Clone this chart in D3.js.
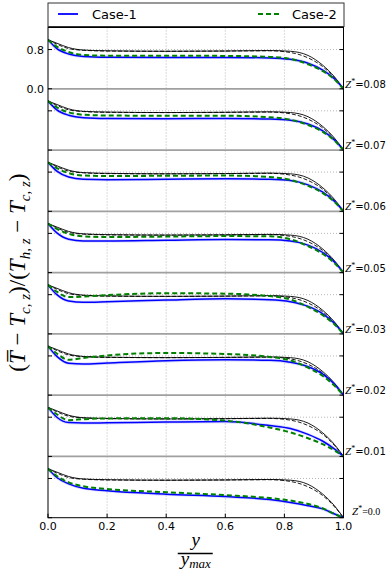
<!DOCTYPE html>
<html>
<head>
<meta charset="utf-8">
<script src="https://cdn.jsdelivr.net/npm/d3@7"></script>
<style>body{margin:0;background:#fff}</style>
</head>
<body>
<script>
// Positions along the channel (y / y_max) where the profiles were read
const yPos = [0, 0.03, 0.07, 0.12, 0.2, 0.4, 0.6, 0.75, 0.82, 0.88, 0.93, 0.97, 1.0];
// Panels from top to bottom
const zLabels = ["0.08", "0.07", "0.06", "0.05", "0.03", "0.02", "0.01", "0.0"];

// Black reference profiles (same in every panel)
const refSolid  = [1.0, 0.93, 0.84, 0.79, 0.775, 0.765, 0.77, 0.78, 0.765, 0.68, 0.48, 0.24, 0];
const refDashed = [1.0, 0.91, 0.82, 0.785, 0.77, 0.765, 0.77, 0.775, 0.74, 0.63, 0.45, 0.22, 0];

// Case-1 (blue), one row per panel
const case1 = [
  [1.0, 0.82, 0.71, 0.66, 0.645, 0.64, 0.64, 0.63, 0.60, 0.52, 0.38, 0.20, 0],
  [1.0, 0.82, 0.71, 0.66, 0.645, 0.64, 0.645, 0.635, 0.61, 0.53, 0.39, 0.20, 0],
  [1.0, 0.82, 0.70, 0.655, 0.645, 0.655, 0.665, 0.655, 0.63, 0.54, 0.39, 0.20, 0],
  [1.0, 0.81, 0.68, 0.645, 0.645, 0.66, 0.675, 0.67, 0.645, 0.56, 0.41, 0.21, 0],
  [1.0, 0.80, 0.67, 0.645, 0.655, 0.69, 0.715, 0.695, 0.655, 0.56, 0.41, 0.21, 0],
  [1.0, 0.79, 0.65, 0.635, 0.655, 0.70, 0.72, 0.71, 0.67, 0.58, 0.43, 0.22, 0],
  [1.0, 0.80, 0.69, 0.68, 0.685, 0.70, 0.71, 0.63, 0.57, 0.45, 0.31, 0.15, 0],
  [1.0, 0.82, 0.69, 0.60, 0.55, 0.48, 0.43, 0.37, 0.31, 0.245, 0.18, 0.075, 0]
];

// Case-2 (green dashed), one row per panel
const case2 = [
  [1.0, 0.86, 0.75, 0.69, 0.675, 0.675, 0.67, 0.65, 0.61, 0.50, 0.36, 0.19, 0],
  [1.0, 0.87, 0.77, 0.72, 0.705, 0.70, 0.70, 0.67, 0.62, 0.51, 0.37, 0.19, 0],
  [1.0, 0.88, 0.78, 0.73, 0.72, 0.725, 0.73, 0.70, 0.64, 0.52, 0.37, 0.19, 0],
  [1.0, 0.89, 0.79, 0.74, 0.725, 0.735, 0.745, 0.74, 0.68, 0.54, 0.38, 0.19, 0],
  [1.0, 0.86, 0.75, 0.76, 0.79, 0.83, 0.82, 0.77, 0.70, 0.55, 0.38, 0.19, 0],
  [1.0, 0.85, 0.72, 0.76, 0.81, 0.86, 0.84, 0.78, 0.71, 0.56, 0.39, 0.19, 0],
  [1.0, 0.86, 0.74, 0.76, 0.775, 0.78, 0.73, 0.59, 0.49, 0.37, 0.25, 0.12, 0],
  [1.0, 0.85, 0.72, 0.64, 0.585, 0.52, 0.46, 0.40, 0.35, 0.28, 0.19, 0.075, 0]
];

const xTicks = [0, 0.2, 0.4, 0.6, 0.8, 1.0];
const bandTicks = [0, 0.8];
const bandSpan = 1.25;

const width = 390, height = 573;
const plot = {left: 48, right: 343.5, top: 27.5, bottom: 517.7};
const nPanels = zLabels.length;

const svg = d3.select("body").append("svg")
  .attr("width", width).attr("height", height)
  .style("font-family", "'DejaVu Sans', sans-serif");

const x = d3.scaleLinear().domain([0, 1]).range([plot.left, plot.right]);
const y = d3.scaleLinear().domain([0, nPanels * bandSpan]).range([plot.bottom, plot.top]);
const offset = i => (nPanels - 1 - i) * bandSpan;

svg.append("clipPath").attr("id", "clip").append("rect")
  .attr("x", plot.left).attr("y", plot.top)
  .attr("width", plot.right - plot.left).attr("height", plot.bottom - plot.top);

// grid
const grid = svg.append("g");
for (const t of xTicks.slice(1, -1)) {
  grid.append("line")
    .attr("x1", x(t)).attr("x2", x(t)).attr("y1", plot.top).attr("y2", plot.bottom)
    .attr("stroke", "#b8b8b8").attr("stroke-width", 1).attr("stroke-dasharray", "1,2");
}
zLabels.forEach((z, i) => {
  grid.append("line")
    .attr("x1", plot.left).attr("x2", plot.right)
    .attr("y1", y(offset(i) + 0.8)).attr("y2", y(offset(i) + 0.8))
    .attr("stroke", "#b8b8b8").attr("stroke-width", 1).attr("stroke-dasharray", "1,2");
  if (i < nPanels - 1) {
    grid.append("line")
      .attr("x1", plot.left).attr("x2", plot.right)
      .attr("y1", y(offset(i))).attr("y2", y(offset(i)))
      .attr("stroke", "#a0a0a0").attr("stroke-width", 1.8);
  }
});

const line = d3.line().curve(d3.curveMonotoneX);
const lines = svg.append("g").attr("clip-path", "url(#clip)");

function profile(vals, i) {
  return line(yPos.map((p, k) => [x(p), y(offset(i) + vals[k])]));
}

zLabels.forEach((z, i) => {
  lines.append("path").attr("d", profile(refSolid, i))
    .attr("fill", "none").attr("stroke", "#000").attr("stroke-width", 0.9);
  lines.append("path").attr("d", profile(refDashed, i))
    .attr("fill", "none").attr("stroke", "#000").attr("stroke-width", 0.9)
    .attr("stroke-dasharray", "4,2");
  lines.append("path").attr("d", profile(case1[i], i))
    .attr("fill", "none").attr("stroke", "#0000ff").attr("stroke-opacity", 0.15)
    .attr("stroke-width", 3.2);
  lines.append("path").attr("d", profile(case1[i], i))
    .attr("fill", "none").attr("stroke", "#0000ff").attr("stroke-width", 1.5);
  lines.append("path").attr("d", profile(case2[i], i))
    .attr("fill", "none").attr("stroke", "#008000").attr("stroke-width", 2)
    .attr("stroke-dasharray", "5,3");
});

// frame and inward ticks
const axes = svg.append("g");
axes.append("rect")
  .attr("x", plot.left).attr("y", plot.top)
  .attr("width", plot.right - plot.left).attr("height", plot.bottom - plot.top)
  .attr("fill", "none").attr("stroke", "#000").attr("stroke-width", 1);
zLabels.forEach((z, i) => {
  for (const t of bandTicks) {
    const yy = y(offset(i) + t);
    axes.append("line").attr("x1", plot.left).attr("x2", plot.left + 4)
      .attr("y1", yy).attr("y2", yy).attr("stroke", "#000");
    axes.append("line").attr("x1", plot.right - 4).attr("x2", plot.right)
      .attr("y1", yy).attr("y2", yy).attr("stroke", "#000");
  }
});
for (const t of xTicks) {
  axes.append("line").attr("x1", x(t)).attr("x2", x(t))
    .attr("y1", plot.bottom).attr("y2", plot.bottom - 4).attr("stroke", "#000");
  axes.append("text").attr("x", x(t)).attr("y", plot.bottom + 12)
    .attr("text-anchor", "middle").attr("font-size", 11).text(d3.format(".1f")(t));
}
// tick labels for the top panel only
for (const t of bandTicks) {
  axes.append("text").attr("x", 44).attr("y", y(offset(0) + t) + 4)
    .attr("text-anchor", "end").attr("font-size", 11).text(d3.format(".1f")(t));
}

// Z* labels on the right
zLabels.forEach((z, i) => {
  const last = i === nPanels - 1;
  const t = axes.append("text")
    .attr("x", last ? 352 : 345)
    .attr("y", y(offset(i)) - (last ? 2.7 : 1))
    .attr("font-size", 10);
  t.append("tspan").attr("font-family", "'Liberation Serif', serif").attr("font-style", "italic")
    .attr("font-size", 11).text("Z");
  t.append("tspan").attr("font-family", "'Liberation Serif', serif").attr("font-size", 8)
    .attr("dy", -4).text("*");
  t.append("tspan").attr("dy", 4)
    .attr("font-family", last ? "'Liberation Serif', serif" : null)
    .text("=" + z);
});

// legend
const leg = svg.append("g");
leg.append("rect").attr("x", plot.left).attr("y", 3).attr("width", plot.right - plot.left + 0.5)
  .attr("height", 23.5).attr("fill", "#fff").attr("stroke", "#333").attr("stroke-width", 1);
leg.append("line").attr("x1", 58).attr("x2", 78).attr("y1", 14).attr("y2", 14)
  .attr("stroke", "#0000ff").attr("stroke-width", 1.8);
leg.append("text").attr("x", 92).attr("y", 18.5).attr("font-size", 13).text("Case-1");
leg.append("line").attr("x1", 258).attr("x2", 281).attr("y1", 14).attr("y2", 14)
  .attr("stroke", "#008000").attr("stroke-width", 2).attr("stroke-dasharray", "5,3");
leg.append("text").attr("x", 292).attr("y", 18.5).attr("font-size", 13).text("Case-2");

// y axis label
const serif = "'Liberation Serif', serif";
const yl = svg.append("text")
  .attr("transform", `translate(25,${(plot.top + plot.bottom) / 2}) rotate(-90)`)
  .attr("text-anchor", "middle").attr("font-family", serif).attr("font-size", 23);
const parts = [
  ["(", false, false], ["T\u0305", true, false], ["\u2005\u2212\u2005", false, false], ["T", true, false],
  ["c, z", true, true], [")/(", false, false], ["T", true, false], ["h, z", true, true],
  ["\u2005\u2212\u2005", false, false], ["T", true, false], ["c, z", true, true], [")", false, false]
];
let down = false;
for (const [txt, ital, sub] of parts) {
  const ts = yl.append("tspan").text(txt).attr("font-style", ital ? "italic" : "normal");
  if (sub) { ts.attr("font-size", 15).attr("dy", 5); down = true; }
  else if (down) { ts.attr("dy", -5); down = false; }
}

// x axis label: y / y_max
const xc = (plot.left + plot.right) / 2;
svg.append("text").attr("x", xc).attr("y", 546).attr("text-anchor", "middle")
  .attr("font-family", serif).attr("font-style", "italic").attr("font-size", 19).text("y");
svg.append("line").attr("x1", xc - 18).attr("x2", xc + 17).attr("y1", 553.5).attr("y2", 553.5)
  .attr("stroke", "#000").attr("stroke-width", 1.5);
const xm = svg.append("text").attr("x", xc).attr("y", 565).attr("text-anchor", "middle")
  .attr("font-family", serif).attr("font-style", "italic").attr("font-size", 19);
xm.append("tspan").text("y");
xm.append("tspan").attr("font-size", 13).attr("dy", 3).text("max");
</script>
</body>
</html>
